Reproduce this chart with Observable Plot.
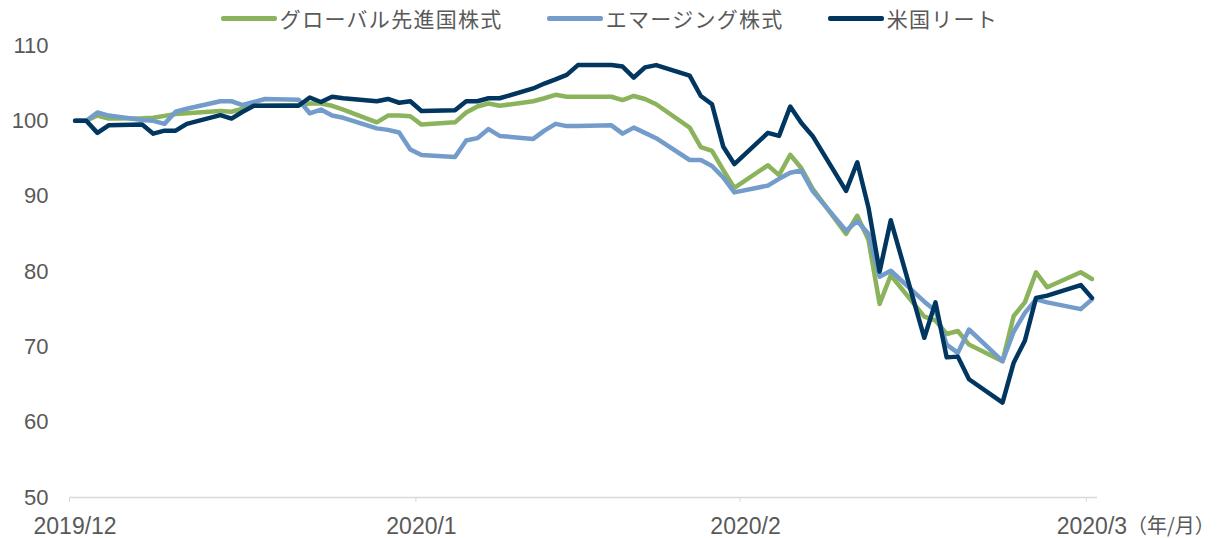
<!DOCTYPE html>
<html>
<head>
<meta charset="utf-8">
<script src="https://cdn.jsdelivr.net/npm/d3@7"></script>
<script src="https://cdn.jsdelivr.net/npm/@observablehq/plot@0.6"></script>
<style>
  html, body { margin: 0; padding: 0; background: #ffffff; }
  body { width: 1219px; height: 538px; overflow: hidden; font-family: "Liberation Sans", Arial, "Noto Sans CJK JP", sans-serif; }
  #legend { height: 36px; display: flex; align-items: center; justify-content: center; padding-left: 0px; box-sizing: border-box; }
  .item { display: flex; align-items: center; margin: 0 22px; }
  .sw { width: 56px; height: 5px; border-radius: 2px; margin-right: 3px; }
  .lb { font-family: "Noto Sans CJK JP", sans-serif; font-size: 21px; color: #595959; letter-spacing: 1.3px; }
  #chart svg { overflow: visible; }
</style>
</head>
<body>
<div id="legend"></div>
<div id="chart"></div>
<script>
// ---- data ----
const dates = [
  "2019-12-31","2020-01-01","2020-01-02","2020-01-03",
  "2020-01-06","2020-01-07","2020-01-08","2020-01-09","2020-01-10",
  "2020-01-13","2020-01-14","2020-01-15","2020-01-16","2020-01-17",
  "2020-01-20","2020-01-21","2020-01-22","2020-01-23","2020-01-24",
  "2020-01-27","2020-01-28","2020-01-29","2020-01-30","2020-01-31",
  "2020-02-03","2020-02-04","2020-02-05","2020-02-06","2020-02-07",
  "2020-02-10","2020-02-11","2020-02-12","2020-02-13","2020-02-14",
  "2020-02-17","2020-02-18","2020-02-19","2020-02-20","2020-02-21",
  "2020-02-24","2020-02-25","2020-02-26","2020-02-27","2020-02-28",
  "2020-03-02","2020-03-03","2020-03-04","2020-03-05","2020-03-06",
  "2020-03-09","2020-03-10","2020-03-11","2020-03-12","2020-03-13",
  "2020-03-16","2020-03-17","2020-03-18","2020-03-19","2020-03-20",
  "2020-03-23","2020-03-24","2020-03-25","2020-03-26","2020-03-27",
  "2020-03-30","2020-03-31"
];

const seriesNames = ["グローバル先進国株式", "エマージング株式", "米国リート"];
const seriesColors = ["#8bb35b", "#739ccb", "#00365f"];

const globalDeveloped = [
  100, 100, 100.7, 100.3,
  100.35, 100.4, 100.66, 100.9, 101.0,
  101.3, 101.2, 101.6, 102.0, 102.0,
  102.1, 102.3, 102.3, 102.0, 101.5,
  99.8, 100.7, 100.7, 100.6, 99.5,
  99.8, 101.1, 101.9, 102.3, 102.0,
  102.6, 103.0, 103.45, 103.2, 103.2,
  103.2, 102.75, 103.3, 102.9, 102.2,
  99.1, 96.5, 96.0, 93.5, 91.1,
  94.1, 92.8, 95.5, 93.7, 91.0,
  85.0, 87.4, 84.2, 75.7, 79.5,
  74.0, 73.5, 71.7, 72.1, 70.3,
  68.1, 74.1, 75.9, 79.9, 77.9,
  79.9, 79.0
];

const emerging = [
  100, 100, 101.1, 100.7,
  100.1, 100.0, 99.6, 101.2, 101.6,
  102.6, 102.6, 102.1, 102.5, 102.9,
  102.8, 101.0, 101.5, 100.7, 100.4,
  99.0, 98.8, 98.45, 96.2, 95.45,
  95.2, 97.4, 97.7, 98.9, 98.0,
  97.6, 98.7, 99.6, 99.3, 99.3,
  99.4, 98.3, 99.1, 98.4, 97.7,
  94.8, 94.8, 94.0, 92.5, 90.5,
  91.4, 92.3, 93.1, 93.4, 90.7,
  85.4, 86.7, 85.0, 79.3, 80.1,
  76.0, 74.8, 70.3, 69.2, 72.3,
  68.1, 72.0, 74.5, 76.3, 75.9,
  75.0, 76.3
];

const usReit = [
  100, 100, 98.4, 99.4,
  99.5, 98.3, 98.7, 98.7, 99.6,
  100.75, 100.3, 101.2, 102.0, 102.0,
  102.0, 103.1, 102.5, 103.2, 103.0,
  102.6, 102.9, 102.4, 102.6, 101.3,
  101.4, 102.6, 102.6, 103.0, 103.0,
  104.3, 104.95, 105.5, 106.1, 107.4,
  107.4, 107.2, 105.75, 107.1, 107.4,
  106.0, 103.3, 102.2, 96.6, 94.25,
  98.4, 98.0, 101.9, 99.7, 98.0,
  90.7, 94.5, 88.5, 80.0, 86.8,
  71.2, 75.9, 68.6, 68.7, 65.7,
  62.6, 67.9, 70.8, 76.5, 76.8,
  78.2, 76.5
];

const tickDates = ["2019-12-31", "2020-01-31", "2020-02-29", "2020-03-31"];
const tickLabels = ["2019/12", "2020/1", "2020/2", "2020/3"];
const unitLabel = "（年/月）";
const yTicks = [50, 60, 70, 80, 90, 100, 110];
const xDomain = ["2019-12-31", "2020-04-01"];

// ---- build table ----
const noon = s => new Date(s + "T12:00:00Z");
const midnight = s => new Date(s + "T00:00:00Z");
const allValues = [globalDeveloped, emerging, usReit];
const table = [];
seriesNames.forEach((name, k) => {
  dates.forEach((d, i) => table.push({series: name, date: noon(d), value: allValues[k][i]}));
});
const tickTable = tickDates.map((d, i) => ({date: noon(d), label: tickLabels[i]}));
const lastTick = [{date: noon(tickDates[tickDates.length - 1]), label: unitLabel}];

// ---- legend ----
const legend = document.getElementById("legend");
seriesNames.forEach((name, k) => {
  const it = document.createElement("div");
  it.className = "item";
  const sw = document.createElement("div");
  sw.className = "sw";
  sw.style.background = seriesColors[k];
  const lb = document.createElement("span");
  lb.className = "lb";
  lb.textContent = name;
  it.appendChild(sw); it.appendChild(lb);
  legend.appendChild(it);
});

// ---- chart ----
const fontFam = "'Liberation Sans', Arial, 'Noto Sans CJK JP', sans-serif";
const chart = Plot.plot({
  width: 1219,
  height: 502,
  marginLeft: 69,
  marginRight: 122,
  marginTop: 9,
  marginBottom: 41,
  style: {fontFamily: fontFam, fontSize: "22px", color: "#595959", background: "#ffffff", overflow: "visible"},
  x: {type: "utc", domain: xDomain.map(midnight), label: null},
  y: {domain: [50, 110], label: null},
  color: {domain: seriesNames, range: seriesColors},
  marks: [
    Plot.ruleY([50], {stroke: "#d9d9d9", strokeWidth: 1.5}),
    Plot.axisX({ticks: tickDates.map(midnight), tickSize: 5, tickFormat: () => "", stroke: "#d9d9d9", strokeOpacity: 1}),
    Plot.axisY({ticks: yTicks, tickSize: 0, tickPadding: 21, fill: "#595959", fontSize: 22}),
    Plot.text(tickTable, {x: "date", y: 50, text: "label", dy: 29, fill: "#595959", fontSize: 23, lineAnchor: "middle"}),
    Plot.text(lastTick, {x: "date", y: 50, text: "label", dy: 29, dx: 35, textAnchor: "start", fill: "#595959", fontSize: 20, lineAnchor: "middle", fontFamily: "'Noto Sans CJK JP', sans-serif"}),
    Plot.line(table, {x: "date", y: "value", z: "series", stroke: "series", strokeWidth: 4.5, strokeLinejoin: "round"})
  ]
});
document.getElementById("chart").appendChild(chart);
</script>
</body>
</html>
